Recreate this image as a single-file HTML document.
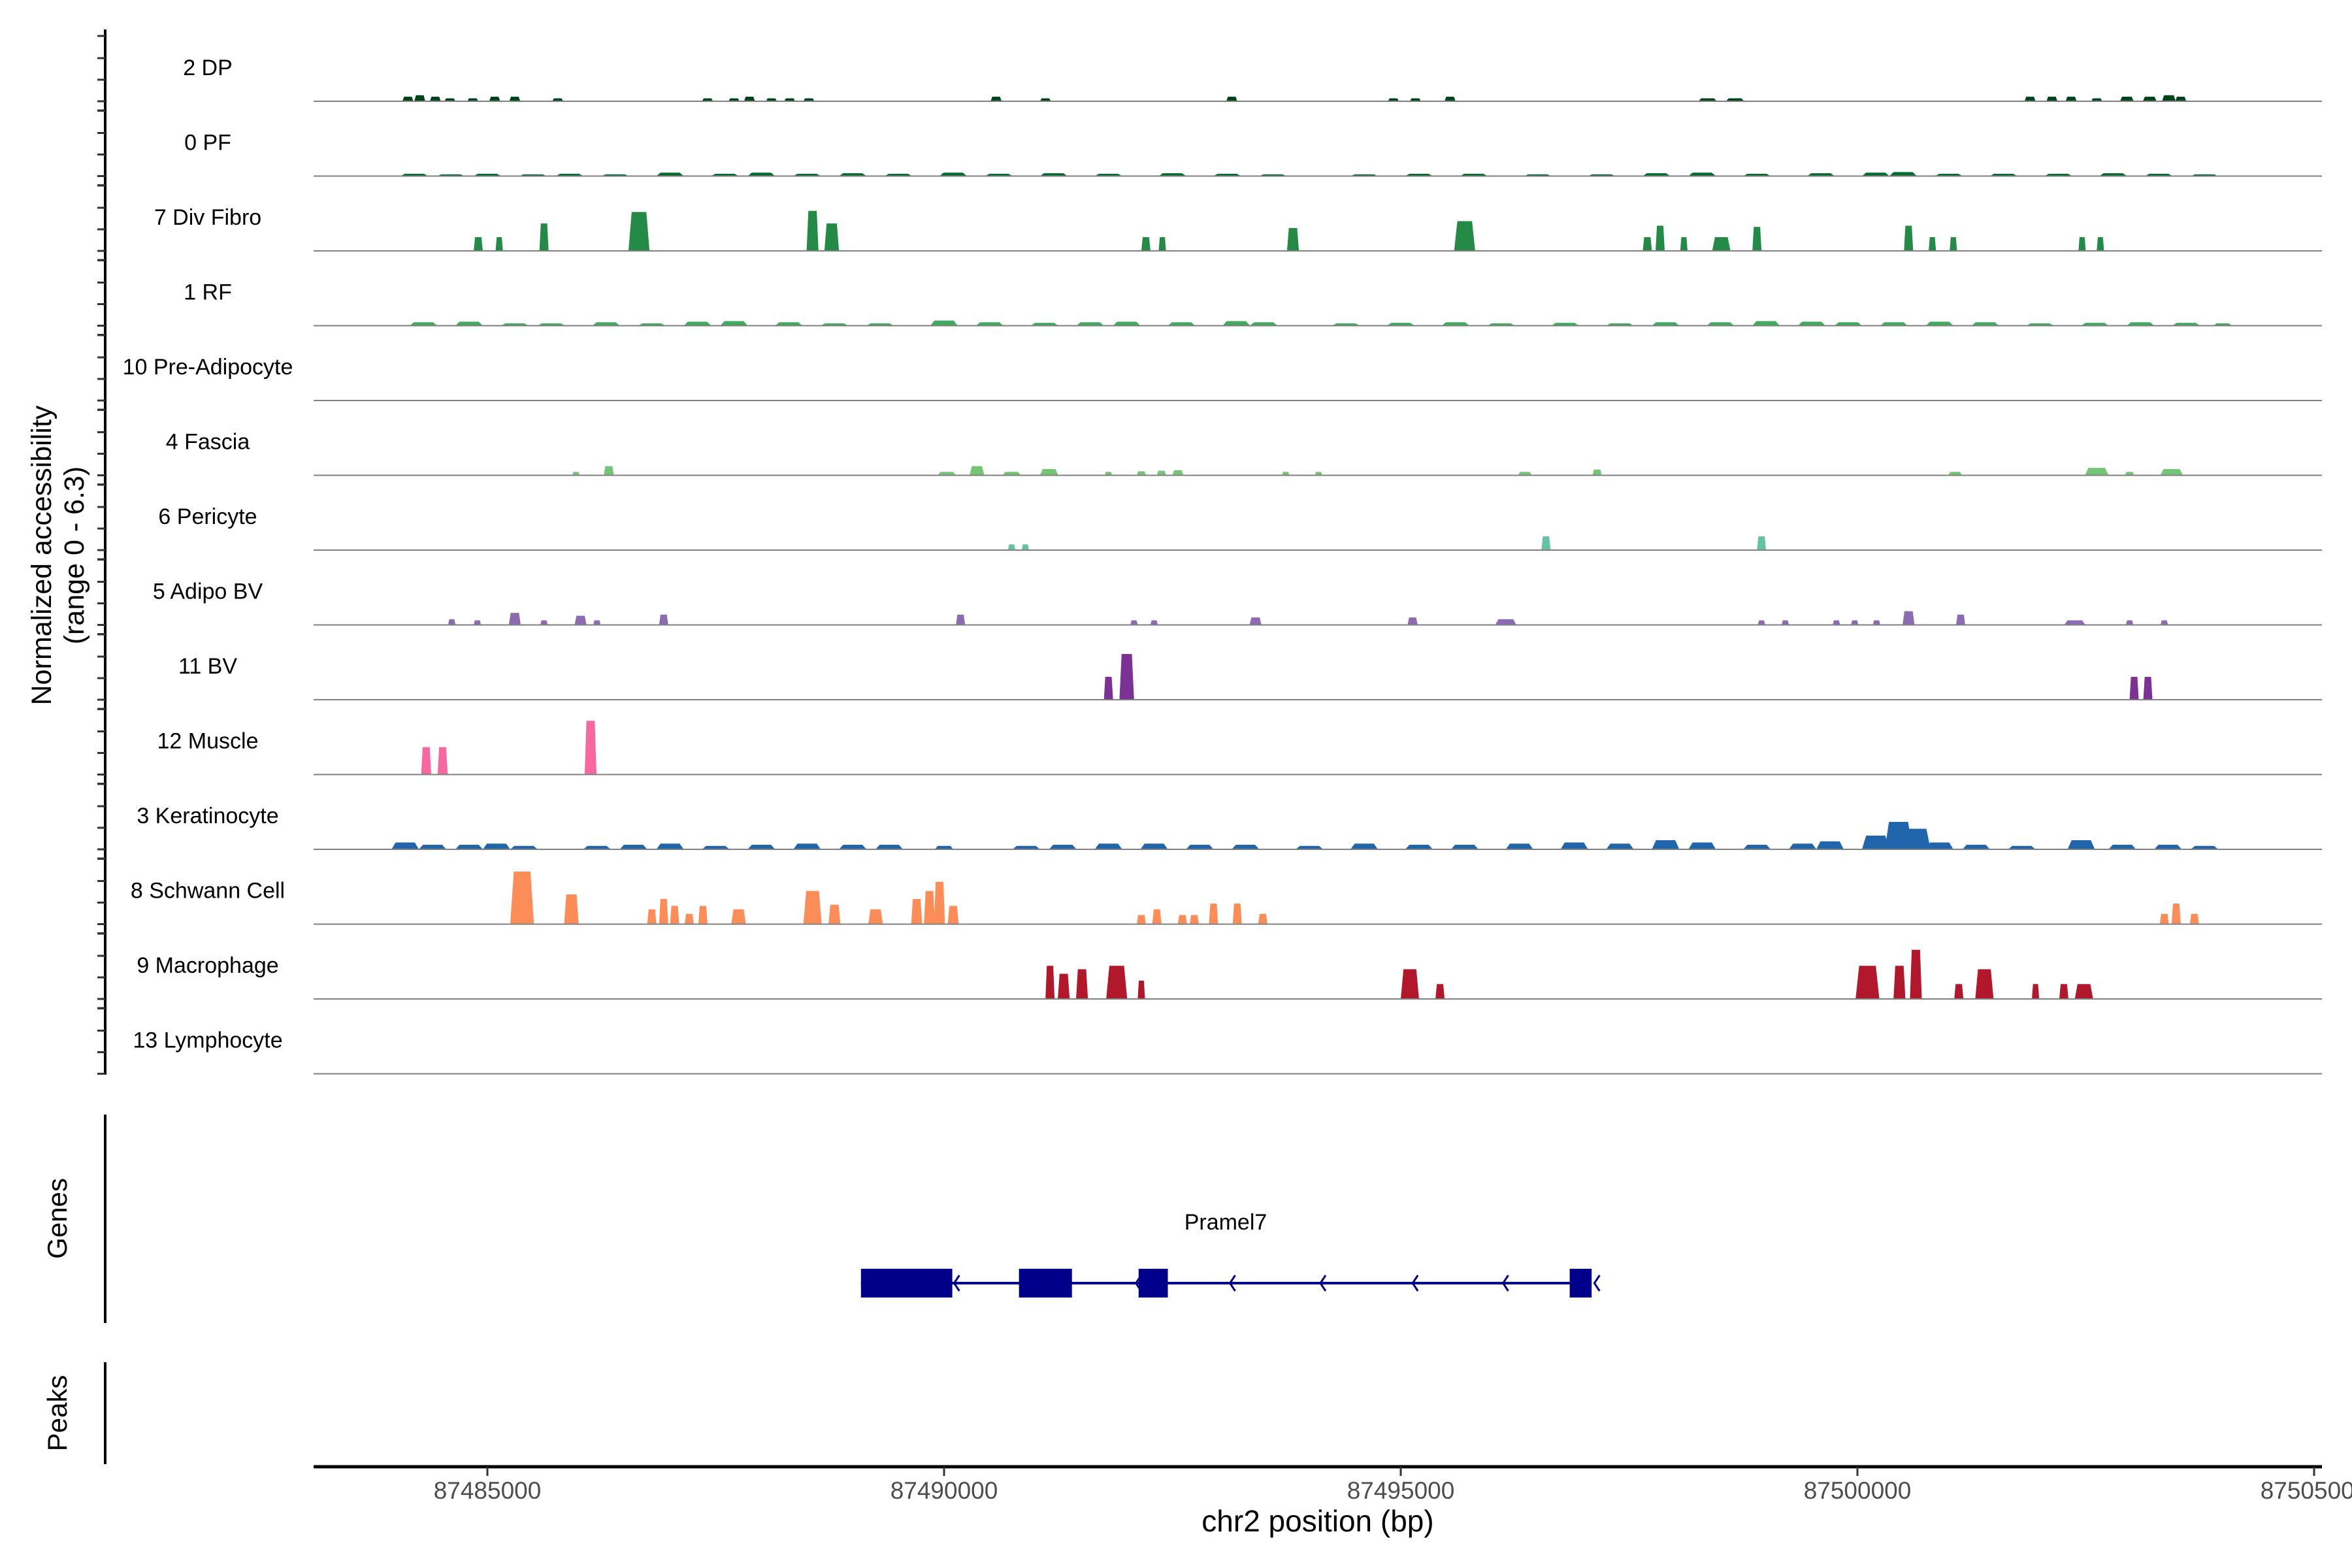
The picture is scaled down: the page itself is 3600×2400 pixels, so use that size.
<!DOCTYPE html>
<html><head><meta charset="utf-8"><style>
html,body{margin:0;padding:0;background:#fff;}
svg{display:block;font-family:"Liberation Sans",Arial,sans-serif;}
</style></head><body>
<svg id="chart" width="3600" height="2400" viewBox="0 0 3600 2400" xmlns="http://www.w3.org/2000/svg">
<rect width="3600" height="2400" fill="#fff"/>
<g id="tracks"></g>
<g id="yaxis"></g>
<text transform="translate(78,850) rotate(-90)" text-anchor="middle" font-size="43" fill="#000">Normalized accessibility</text>
<text transform="translate(128,850) rotate(-90)" text-anchor="middle" font-size="43" fill="#000">(range 0 - 6.3)</text>
<line x1="161" y1="1706" x2="161" y2="2025" stroke="#000" stroke-width="4"/>
<text transform="translate(102,1865) rotate(-90)" text-anchor="middle" font-size="42">Genes</text>
<line x1="161" y1="2085" x2="161" y2="2241" stroke="#000" stroke-width="4"/>
<text transform="translate(102,2163) rotate(-90)" text-anchor="middle" font-size="42">Peaks</text>
<g id="genes"></g>
<g id="xaxis"></g>
<text x="2017" y="2344" text-anchor="middle" font-size="46">chr2 position (bp)</text>
</svg>
<script>
// positions in kb relative to chr2:87,480,000 ; heights in normalized accessibility
const trackNames = ["2 DP","0 PF","7 Div Fibro","1 RF","10 Pre-Adipocyte","4 Fascia","6 Pericyte","5 Adipo BV","11 BV","12 Muscle","3 Keratinocyte","8 Schwann Cell","9 Macrophage","13 Lymphocyte"];
const trackColors = ["#00441b","#006d2c","#238b45","#41ab5d","#74c476","#74c476","#66c2a4","#8c6bb1","#7b3294","#f768a1","#2166ac","#fc8d59","#b2182b","#555555"];
const dpPeaks = [[4.13,.12,.4],[4.26,.12,.53],[4.43,.12,.4],[4.59,.12,.26],[4.84,.12,.26],[5.08,.12,.4],[5.30,.12,.4],[5.77,.12,.26],[7.41,.12,.26],[7.70,.12,.26],[7.87,.12,.4],[8.11,.12,.26],[8.31,.12,.26],[8.52,.12,.26],[10.57,.12,.4],[11.11,.12,.26],[13.15,.12,.4],[14.92,.12,.26],[15.16,.12,.26],[15.54,.12,.4],[18.36,.2,.26],[18.66,.2,.26],[21.89,.12,.4],[22.13,.12,.4],[22.34,.12,.4],[22.62,.12,.26],[22.95,.15,.4],[23.20,.15,.4],[23.41,.15,.53],[23.54,.12,.4]];
const pfPeaks = [[4.2,.3,.2],[4.6,.3,.15],[5.0,.3,.2],[5.5,.3,.15],[5.9,.3,.2],[6.4,.3,.15],[7.0,.3,.3],[7.6,.3,.2],[8.0,.3,.3],[8.5,.3,.2],[9.0,.3,.25],[9.5,.3,.2],[10.1,.3,.3],[10.6,.3,.2],[11.2,.3,.25],[11.8,.3,.2],[12.5,.3,.25],[13.1,.3,.2],[13.6,.3,.15],[14.6,.3,.15],[15.2,.3,.2],[15.8,.3,.2],[16.5,.3,.15],[17.2,.3,.15],[17.8,.3,.25],[18.3,.3,.3],[18.9,.3,.2],[19.6,.3,.25],[20.2,.3,.3],[20.5,.3,.35],[21.0,.3,.2],[21.6,.3,.2],[22.2,.3,.2],[22.8,.3,.25],[23.3,.3,.2],[23.8,.3,.15]];
const divFibroPeaks = [[4.90,.10,1.2],[5.13,.08,1.2],[5.62,.10,2.4],[6.66,.23,3.4],[8.56,.13,3.5],[8.77,.16,2.4],[12.21,.10,1.2],[12.39,.08,1.2],[13.82,.13,2.0],[15.70,.23,2.6],[17.70,.10,1.2],[17.84,.10,2.2],[18.10,.08,1.2],[18.51,.2,1.2],[18.90,.10,2.1],[20.56,.10,2.2],[20.82,.08,1.2],[21.05,.08,1.2],[22.46,.08,1.2],[22.66,.08,1.2]];
const rfPeaks = [[4.3,.3,.3],[4.8,.3,.35],[5.3,.3,.2],[5.7,.3,.2],[6.3,.3,.3],[6.8,.3,.2],[7.3,.3,.35],[7.7,.3,.4],[8.3,.3,.3],[8.8,.3,.2],[9.3,.3,.2],[10.0,.3,.45],[10.5,.3,.3],[11.1,.3,.25],[11.6,.3,.3],[12.0,.3,.35],[12.6,.3,.3],[13.2,.3,.4],[13.5,.3,.3],[14.4,.3,.2],[15.0,.3,.25],[15.6,.3,.3],[16.1,.3,.2],[16.8,.3,.25],[17.4,.3,.2],[17.9,.3,.3],[18.5,.3,.3],[19.0,.3,.4],[19.5,.3,.35],[19.9,.3,.3],[20.4,.3,.3],[20.9,.3,.35],[21.4,.3,.3],[22.0,.3,.2],[22.6,.3,.25],[23.1,.3,.3],[23.6,.3,.25],[24.0,.2,.2]];
const preAdipoPeaks = [];
const fasciaPeaks = [[5.97,.08,.3],[6.33,.11,.8],[10.03,.2,.3],[10.36,.16,.8],[10.74,.2,.3],[11.15,.2,.55],[11.80,.08,.3],[12.16,.1,.35],[12.38,.1,.4],[12.56,.12,.45],[13.74,.08,.3],[14.10,.08,.3],[16.36,.15,.3],[17.15,.1,.5],[21.07,.15,.3],[22.62,.26,.65],[22.98,.1,.3],[23.44,.25,.55]];
const pericytePeaks = [[10.74,.08,.5],[10.89,.08,.5],[16.59,.10,1.2],[18.95,.10,1.2]];
const adipoBVPeaks = [[4.61,.08,.5],[4.89,.08,.4],[5.30,.13,1.05],[5.62,.08,.4],[6.02,.13,.8],[6.20,.08,.4],[6.93,.10,.9],[10.18,.10,.9],[12.08,.08,.4],[12.30,.08,.4],[13.41,.13,.65],[15.13,.11,.65],[16.15,.23,.5],[18.95,.08,.4],[19.21,.08,.4],[19.77,.08,.4],[19.97,.08,.4],[20.21,.08,.4],[20.56,.13,1.2],[21.13,.10,.9],[22.38,.23,.4],[22.98,.08,.4],[23.36,.08,.4]];
const bvPeaks = [[11.80,.10,2.0],[12.00,.16,4.0],[23.03,.10,2.0],[23.18,.10,2.0]];
const musclePeaks = [[4.33,.11,2.4],[4.51,.11,2.4],[6.13,.13,4.7]];
const keratinocytePeaks = [[4.1,.3,.6],[4.4,.3,.4],[4.8,.3,.4],[5.1,.3,.5],[5.4,.3,.3],[6.2,.3,.3],[6.6,.3,.4],[7.0,.3,.5],[7.5,.3,.3],[8.0,.3,.4],[8.5,.3,.5],[9.0,.3,.4],[9.4,.3,.4],[10.0,.2,.3],[10.9,.3,.3],[11.3,.3,.4],[11.8,.3,.5],[12.3,.3,.5],[12.8,.3,.4],[13.3,.3,.4],[14.0,.3,.3],[14.6,.3,.5],[15.2,.3,.4],[15.7,.3,.4],[16.3,.3,.5],[16.9,.3,.6],[17.4,.3,.5],[17.9,.3,.8],[18.3,.3,.6],[18.9,.3,.4],[19.4,.3,.5],[19.7,.3,.7],[20.2,.3,1.2],[20.45,.3,2.4],[20.65,.3,1.8],[20.9,.3,.6],[21.3,.3,.4],[21.8,.3,.3],[22.45,.3,.8],[22.9,.3,.4],[23.4,.3,.4],[23.8,.3,.3]];
const schwannPeaks = [[5.38,.26,4.6],[5.92,.16,2.6],[6.80,.1,1.3],[6.93,.1,2.2],[7.05,.1,1.6],[7.21,.1,.9],[7.36,.1,1.6],[7.75,.16,1.3],[8.56,.2,2.9],[8.80,.13,1.7],[9.25,.16,1.3],[9.70,.12,2.2],[9.84,.12,2.9],[9.95,.12,3.7],[10.10,.12,1.6],[12.16,.1,.8],[12.33,.1,1.3],[12.61,.1,.8],[12.74,.1,.8],[12.95,.1,1.8],[13.21,.1,1.8],[13.49,.1,.9],[23.36,.1,.9],[23.49,.1,1.8],[23.69,.1,.9]];
const macrophagePeaks = [[11.16,.10,2.9],[11.31,.13,2.2],[11.51,.13,2.6],[11.89,.23,2.9],[12.16,.08,1.6],[15.10,.2,2.6],[15.43,.10,1.3],[20.11,.26,2.9],[20.46,.13,2.9],[20.64,.13,4.3],[21.11,.10,1.3],[21.39,.2,2.6],[21.95,.08,1.3],[22.26,.10,1.3],[22.48,.2,1.3]];
const lymphocytePeaks = [];
const xTicks = [5,10,15,20,25];
const xTickLabels = ["87485000","87490000","87495000","87500000","87505000"];
const exonStarts = [9.09,10.82,12.13,16.85];
const exonEnds = [10.09,11.40,12.45,17.09];
const arrowPos = [10.11,12.10,13.13,14.12,15.13,16.12,17.12];
const geneName = "Pramel7";

const allPeaks = [dpPeaks,pfPeaks,divFibroPeaks,rfPeaks,preAdipoPeaks,fasciaPeaks,pericytePeaks,adipoBVPeaks,bvPeaks,musclePeaks,keratinocytePeaks,schwannPeaks,macrophagePeaks,lymphocytePeaks];
const NS="http://www.w3.org/2000/svg";
const X0=480, X1=3554;
function xScale(kb){return 746+(kb-5)*139.8;}
function baseY(i){return 155+114.5*i;}
function yScale(v){return v*17.5;}
function mk(tag,attrs,parent){const e=document.createElementNS(NS,tag);for(const k in attrs)e.setAttribute(k,attrs[k]);parent.appendChild(e);return e;}

const tracks=document.getElementById('tracks');
trackNames.forEach((name,i)=>{
  const g=mk('g',{},tracks);
  
  
  const b=baseY(i);
  const t=mk('text',{x:318,y:b-40,'text-anchor':'middle','font-size':34,fill:'#000'},g);
  t.textContent=name;
  
  
  allPeaks[i].forEach(p=>{
    const xc=xScale(p[0]), w=Math.max(p[1]*139.8,6), h=yScale(p[2]);
    const xl=Math.max(X0,xc-w/2), xr=Math.min(X1,xc+w/2), s=w*0.15;
    const poly=mk('polygon',{points:`${xl},${b} ${xl+s},${b-h} ${xr-s},${b-h} ${xr},${b}`,fill:trackColors[i]},g);
    
    
  });
  const ln=mk('line',{x1:X0,y1:b,x2:X1,y2:b,stroke:'#808080','stroke-width':2},g);
  
  
});

const ya=document.getElementById('yaxis');
const yl=mk('line',{x1:161,y1:45,x2:161,y2:1645,stroke:'#000','stroke-width':4},ya);


for(let i=0;i<trackNames.length;i++){
  const b=baseY(i);
  [b-100,b-66,b-33,b,b+14].forEach(y=>{
    if(y>1646)return;
    const tk=mk('line',{x1:149,y1:y,x2:161,y2:y,stroke:'#333','stroke-width':3},ya);
    
    
  });
}

const gg=document.getElementById('genes');
const gy=1964;
const gl=mk('line',{x1:xScale(exonStarts[0]),y1:gy,x2:xScale(exonEnds[exonEnds.length-1]),y2:gy,stroke:'#00008b','stroke-width':4},gg);


arrowPos.forEach(a=>{
  const x=xScale(a);
  const ar=mk('polyline',{points:`${x+8},${gy-12} ${x},${gy} ${x+8},${gy+12}`,fill:'none',stroke:'#00008b','stroke-width':3},gg);
  
  
});
exonStarts.forEach((s,i)=>{
  const r=mk('rect',{x:xScale(s),y:1942,width:xScale(exonEnds[i])-xScale(s),height:44,fill:'#00008b'},gg);
  
  
});
const gt=mk('text',{x:1876,y:1882,'text-anchor':'middle','font-size':34,fill:'#000'},gg);
gt.textContent=geneName;



const xa=document.getElementById('xaxis');
const al=mk('line',{x1:X0,y1:2245,x2:X1,y2:2245,stroke:'#000','stroke-width':5},xa);


xTicks.forEach((t,i)=>{
  const x=xScale(t);
  const tk=mk('line',{x1:x,y1:2245,x2:x,y2:2259,stroke:'#333','stroke-width':3},xa);
  
  
  const tl=mk('text',{x:x,y:2294,'text-anchor':'middle','font-size':37,fill:'#4d4d4d'},xa);
  tl.textContent=xTickLabels[i];
  
  
});
</script>
</body></html>
